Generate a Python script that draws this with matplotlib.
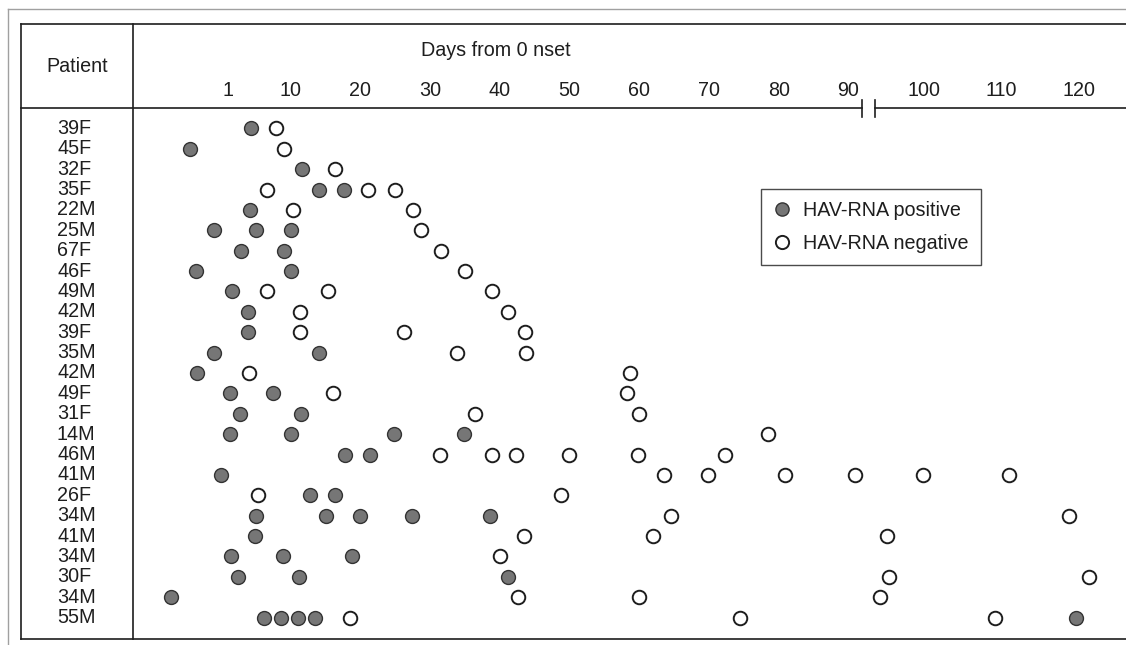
"""
HAV-RNA detection by patient and day from onset (scanned table-style dot chart).
Writes out.png.
"""

import numpy as np
import matplotlib.pyplot as plt
from matplotlib.lines import Line2D
from matplotlib.transforms import blended_transform_factory

plt.rcParams["font.family"] = ["Liberation Sans", "DejaVu Sans"]

# ----- Data (days from onset) -----
PATIENTS = ["39F", "45F", "32F", "35F", "22M", "25M", "67F", "46F", "49M", "42M",
            "39F", "35M", "42M", "49F", "31F", "14M", "46M", "41M", "26F", "34M",
            "41M", "34M", "30F", "34M", "55M"]

POSITIVE_DAYS = [
    [4.3], [-4.4], [11.6], [14.0, 17.6], [4.2], [-1.0, 5.0, 10.0], [2.8, 9.1],
    [-3.6, 10.0], [1.6], [3.8], [3.8], [-1.0, 14.0], [-3.4], [1.3, 7.5],
    [2.7, 11.5], [1.3, 10.0, 24.8, 34.8], [17.8, 21.4], [0.0], [12.8, 16.4],
    [5.0, 15.1, 20.0, 27.4, 38.6], [4.9], [1.5, 8.9, 18.8], [2.5, 11.2, 41.2],
    [-7.2], [6.1, 8.6, 11.0, 13.5, 119.7],
]

NEGATIVE_DAYS = [
    [7.9], [9.0], [16.4], [6.6, 21.1, 25.0], [10.3, 27.6], [28.7], [31.5], [35.0],
    [6.6, 15.4, 38.9], [11.3, 41.1], [11.3, 26.2, 43.6], [33.8, 43.7], [4.0, 58.7],
    [16.1, 58.2], [36.4, 59.9], [78.5], [31.4, 38.9, 42.3, 49.9, 59.8, 72.3],
    [63.6, 69.8, 80.9, 90.9, 99.8, 111.0], [5.3, 48.7], [64.6, 118.8],
    [43.4, 62.0, 95.2], [40.0], [95.4, 121.3], [42.6, 59.9, 94.3],
    [18.5, 74.4, 109.1],
]

TICK_DAYS = [1, 10, 20, 30, 40, 50, 60, 70, 80, 90, 100, 110, 120]
AXIS_BREAK = (92.0, 93.6)   # days where the header axis is broken

# ----- Layout (figure is 1126 x 645 px) -----
W, H = 1126, 645
DPI = 100

# piecewise day -> pixel scale (axis is compressed after the break)
SCALE_DAYS = [-20.0, 92.0, 130.0]
SCALE_PX = [81.6, 862.4, 1156.0]


def fwd(d):
    return np.interp(d, SCALE_DAYS, SCALE_PX)


def inv(p):
    return np.interp(p, SCALE_PX, SCALE_DAYS)


def fx(px):
    return px / W


def fy(py):
    return 1 - py / H


INK = "#1e1e1e"
FILL = "#767676"
FS = 14.2

fig = plt.figure(figsize=(W / DPI, H / DPI), dpi=DPI)

# data area: right of the label column, below the header line
left, right, top, bottom = 133, 1126, 108, 638
ax = fig.add_axes([fx(left), fy(bottom), fx(right) - fx(left), (bottom - top) / H])
ax.set_xscale("function", functions=(fwd, inv))
ax.set_xlim(inv(left), inv(right))
ax.set_ylim(len(PATIENTS), -1)

for i, (pos, neg) in enumerate(zip(POSITIVE_DAYS, NEGATIVE_DAYS)):
    ax.scatter(neg, [i] * len(neg), s=95, facecolor="white", edgecolor=INK,
               linewidth=1.4, zorder=3)
    ax.scatter(pos, [i] * len(pos), s=100, facecolor=FILL, edgecolor="#333333",
               linewidth=1.0, zorder=3)

for s in ax.spines.values():
    s.set_visible(False)
ax.set_yticks([])
ax.set_xticks(TICK_DAYS)
ax.set_xticklabels([str(t) for t in TICK_DAYS])
ax.xaxis.tick_top()
ax.tick_params(axis="x", length=0, pad=5.5, labelsize=FS, colors=INK)
ax.set_facecolor("none")

# patient labels in the left column
trans = blended_transform_factory(fig.transFigure, ax.transData)
for i, name in enumerate(PATIENTS):
    ax.text(fx(57), i, name, transform=trans, ha="left", va="center",
            fontsize=FS, color=INK)

fig.text(fx(77), fy(67), "Patient", ha="center", va="center", fontsize=FS, color=INK)
fig.text(fx(496), fy(51), "Days from 0 nset", ha="center", va="center",
         fontsize=FS, color=INK)


def fline(xs, ys, color=INK, lw=1.2):
    fig.add_artist(Line2D([fx(x) for x in xs], [fy(y) for y in ys],
                          transform=fig.transFigure, color=color, linewidth=lw))


# outer scan border
fline([8, 8], [9, 645], color="#a0a0a0", lw=1.0)
fline([8, 1126], [9, 9], color="#a0a0a0", lw=1.0)

# table frame
fline([21, 1126], [24, 24])
fline([21, 21], [24, 639])
fline([21, 1126], [639, 639])
fline([133, 133], [24, 639])

# header line with axis break
b0, b1 = fwd(AXIS_BREAK[0]), fwd(AXIS_BREAK[1])
fline([21, b0], [108, 108])
fline([b1, 1126], [108, 108])
fline([b0, b0], [100, 117])
fline([b1, b1], [100, 117])

# legend
handles = [
    Line2D([0], [0], linestyle="none", marker="o", markersize=9.5,
           markerfacecolor=FILL, markeredgecolor="#333333", markeredgewidth=1.0,
           label="HAV-RNA positive"),
    Line2D([0], [0], linestyle="none", marker="o", markersize=9.5,
           markerfacecolor="white", markeredgecolor=INK, markeredgewidth=1.4,
           label="HAV-RNA negative"),
]
leg = fig.legend(handles=handles, loc="upper left",
                 bbox_to_anchor=(fx(761), fy(189)), bbox_transform=fig.transFigure,
                 borderaxespad=0, fontsize=FS, frameon=True, fancybox=False,
                 handlelength=0.9, handletextpad=0.6, labelspacing=0.7,
                 borderpad=0.62)
leg.get_frame().set_edgecolor(INK)
leg.get_frame().set_linewidth(1.0)
for t in leg.get_texts():
    t.set_color(INK)

fig.savefig("out.png", dpi=DPI)
